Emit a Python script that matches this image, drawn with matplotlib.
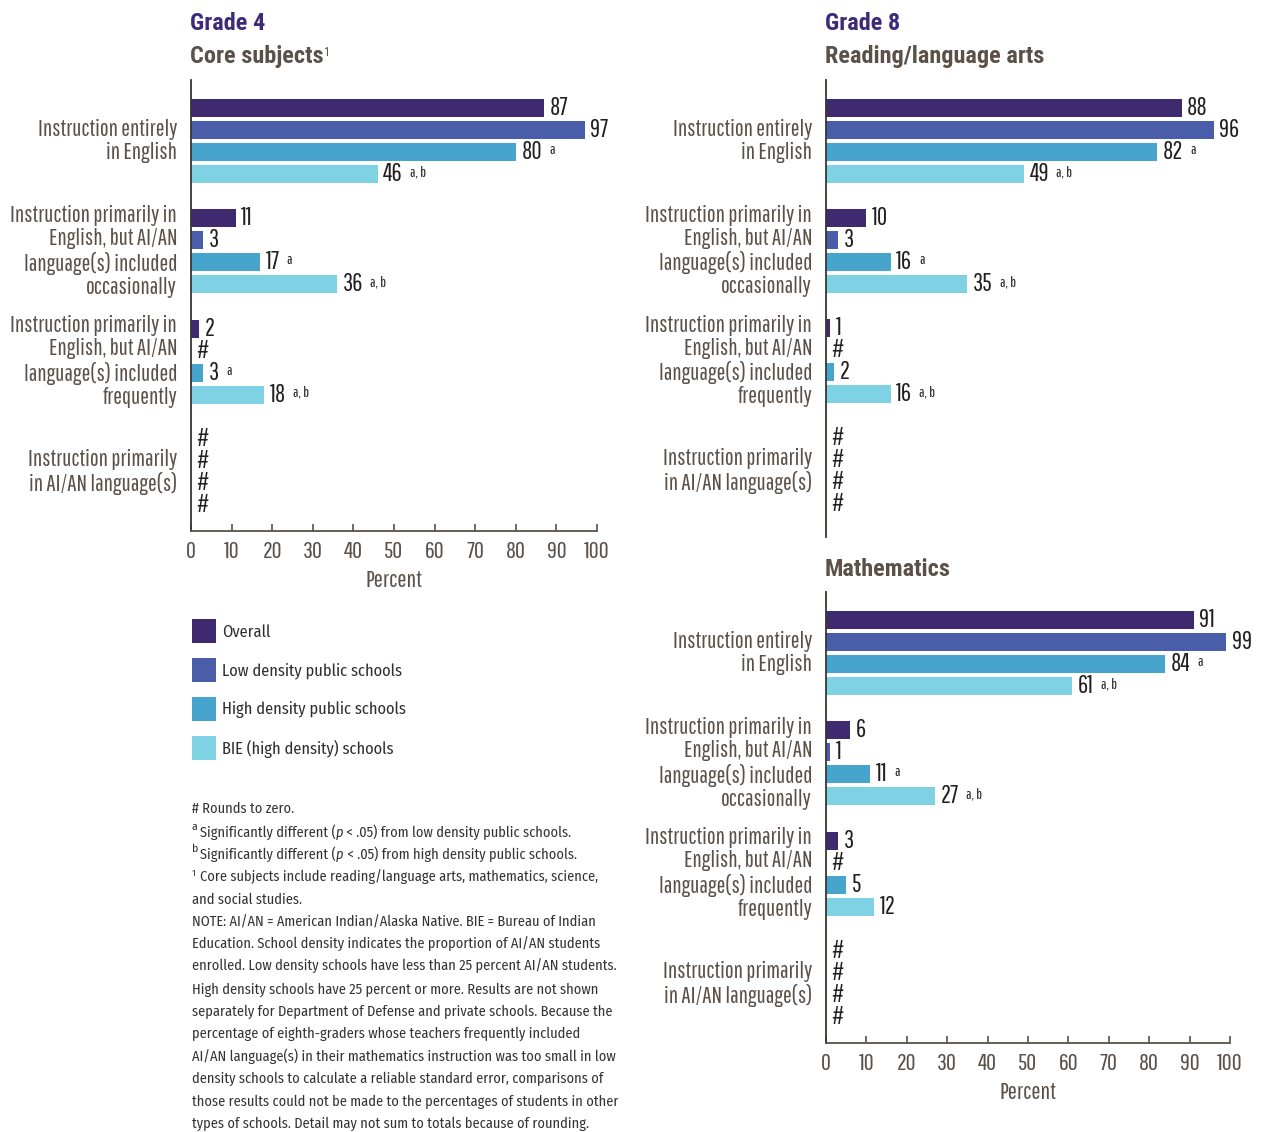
import matplotlib
matplotlib.use("Agg")
import matplotlib.pyplot as plt
from matplotlib.text import Annotation
import matplotlib.font_manager as fm
import logging

logging.getLogger("matplotlib.font_manager").setLevel(logging.ERROR)

W, H = 1263, 1132

SERIES = ["Overall", "Low density public schools", "High density public schools", "BIE (high density) schools"]
COLORS = ["#3f2a70", "#4a5da9", "#47a4cc", "#7fd2e3"]

CATEGORIES = [
    "Instruction entirely\nin English",
    "Instruction primarily in\nEnglish, but AI/AN\nlanguage(s) included\noccasionally",
    "Instruction primarily in\nEnglish, but AI/AN\nlanguage(s) included\nfrequently",
    "Instruction primarily\nin AI/AN language(s)",
]

# rows = category, cols = series; None = rounds to zero (#)
g4_core = [[87, 97, 80, 46], [11, 3, 17, 36], [2, None, 3, 18], [None, None, None, None]]
g4_notes = [["", "", "a", "a, b"], ["", "", "a", "a, b"], ["", "", "a", "a, b"], ["", "", "", ""]]

g8_read = [[88, 96, 82, 49], [10, 3, 16, 35], [1, None, 2, 16], [None, None, None, None]]
g8_read_notes = [["", "", "a", "a, b"], ["", "", "a", "a, b"], ["", "", "", "a, b"], ["", "", "", ""]]

g8_math = [[91, 99, 84, 61], [6, 1, 11, 27], [3, None, 5, 12], [None, None, None, None]]
g8_math_notes = [["", "", "a", "a, b"], ["", "", "a", "a, b"], ["", "", "", ""], ["", "", "", ""]]

XTICKS = list(range(0, 101, 10))

installed = {f.name for f in fm.fontManager.ttflist}


def pick(cands):
    return [c for c in cands if c in installed] + ["DejaVu Sans"]


COND = pick(["Pathway Gothic One", "Roboto Condensed", "Liberation Sans Narrow"])
BOLD = pick(["Roboto Condensed", "Oswald", "Archivo Narrow", "Liberation Sans Narrow"])
HUM = pick(["Fira Sans Condensed", "Encode Sans Condensed", "Roboto Condensed", "Liberation Sans Narrow"])

LABEL_C = "#5b5148"
VAL_C = "#231f20"
SPINE_C = "#5b5148"

fig = plt.figure(figsize=(W / 100, H / 100), dpi=100)


def box(x0, y0, x1, y1):
    return [x0 / W, 1 - y1 / H, (x1 - x0) / W, (y1 - y0) / H]


def fy(py):
    return 1 - py / H


def panel(rect, data, notes, show_x, ybottom=19.18):
    ax = fig.add_axes(rect)
    for g, row in enumerate(data):
        for i, v in enumerate(row):
            pos = g * 5 + i
            val = 0 if v is None else v
            if v is not None:
                ax.barh(pos, val, height=0.82, color=COLORS[i], linewidth=0)
            t = ax.annotate("#" if v is None else str(v), (val, pos), xytext=(4, 0),
                            textcoords="offset points", va="center", ha="left",
                            fontsize=18, color=VAL_C, family=COND)
            if notes[g][i]:
                ax.annotate(notes[g][i], xy=(1, 0.88), xycoords=t, xytext=(5, 0),
                            textcoords="offset points", va="top", ha="left",
                            fontsize=11, color=VAL_C, family=COND)
        ax.annotate(CATEGORIES[g], xy=(0, g * 5 + 1.5), xycoords=("axes fraction", "data"),
                    xytext=(-10, 0), textcoords="offset points",
                    ha="right", va="center", fontsize=16.8, color=LABEL_C,
                    linespacing=1.12, family=COND)
    ax.set_xlim(0, 100)
    ax.set_ylim(ybottom, -1.27)
    ax.set_yticks([])
    for s in ["top", "right"]:
        ax.spines[s].set_visible(False)
    ax.spines["left"].set_color("#3a3530")
    ax.spines["left"].set_linewidth(1.3)
    if show_x:
        ax.spines["bottom"].set_color(SPINE_C)
        ax.spines["bottom"].set_linewidth(1.3)
        ax.set_xticks(XTICKS)
        ax.tick_params(axis="x", direction="in", length=5, width=1.2, color=SPINE_C,
                       labelsize=17.5, labelcolor=LABEL_C, pad=7)
        for lab in ax.get_xticklabels():
            lab.set_family(COND)
        ax.set_xlabel("Percent", fontsize=17.5, color=LABEL_C, labelpad=6, family=COND)
    else:
        ax.spines["bottom"].set_visible(False)
        ax.set_xticks([])
    return ax


ax1 = panel(box(191, 80, 597, 531), g4_core, g4_notes, True)
ax2 = panel(box(826, 80, 1230, 537), g8_read, g8_read_notes, False, ybottom=19.5)
ax3 = panel(box(826, 592, 1230, 1043), g8_math, g8_math_notes, True)

# headers
PURPLE = "#3f2a7a"
HEAD_C = "#5b5148"
HFS = 17.5
fig.text(190 / W, fy(23), "Grade 4", fontsize=HFS, fontweight="bold", color=PURPLE, va="center", family=BOLD)
h = fig.text(190 / W, fy(56), "Core subjects", fontsize=HFS, fontweight="bold", color=HEAD_C, va="center", family=BOLD)
fig.add_artist(Annotation("1", xy=(1, 0.92), xycoords=h, xytext=(0.5, 0), textcoords="offset points",
                          va="top", ha="left", fontsize=9, color=HEAD_C, family=BOLD))
fig.text(825 / W, fy(23), "Grade 8", fontsize=HFS, fontweight="bold", color=PURPLE, va="center", family=BOLD)
fig.text(825 / W, fy(56), "Reading/language arts", fontsize=HFS, fontweight="bold", color=HEAD_C, va="center", family=BOLD)
fig.text(825 / W, fy(569), "Mathematics", fontsize=HFS, fontweight="bold", color=HEAD_C, va="center", family=BOLD)

# legend
LEG_Y = [631, 670, 709, 748]
for name, c, y in zip(SERIES, COLORS, LEG_Y):
    fig.patches.append(plt.Rectangle((192 / W, fy(y + 12)), 24 / W, 24 / H,
                                     transform=fig.transFigure, color=c, linewidth=0))
    fig.text(222 / W, fy(y + 1), name, fontsize=11.8, color="#2f2f2f", va="center", family=HUM)

# footnotes
FN_C = "#333333"
FS = 10.3
x0 = 192 / W
FN = dict(fontsize=FS, color=FN_C, family=HUM)
lines = [
    "NOTE: AI/AN = American Indian/Alaska Native. BIE = Bureau of Indian",
    "Education. School density indicates the proportion of AI/AN students",
    "enrolled. Low density schools have less than 25 percent AI/AN students.",
    "High density schools have 25 percent or more. Results are not shown",
    "separately for Department of Defense and private schools. Because the",
    "percentage of eighth-graders whose teachers frequently included",
    "AI/AN language(s) in their mathematics instruction was too small in low",
    "density schools to calculate a reliable standard error, comparisons of",
    "those results could not be made to the percentages of students in other",
    "types of schools. Detail may not sum to totals because of rounding.",
]
fig.text(x0, fy(809), "# Rounds to zero.", va="center", **FN)


def sig_line(letter, y, tail):
    sup = fig.text(x0, fy(y - 5), letter, va="center", fontsize=8.5, color=FN_C, family=HUM)
    t = fig.add_artist(Annotation("Significantly different (", xy=(1, 0.5), xycoords=sup,
                                  xytext=(1.5, -3.6), textcoords="offset points",
                                  va="center", ha="left", **FN))
    t = fig.add_artist(Annotation("p", xy=(1, 0), xycoords=t, xytext=(0, 0),
                                  textcoords="offset points", va="bottom", ha="left",
                                  fontstyle="italic", **FN))
    fig.add_artist(Annotation(" < .05) from " + tail, xy=(1, 0), xycoords=t, xytext=(0, 0),
                              textcoords="offset points", va="bottom", ha="left", **FN))


sig_line("a", 832, "low density public schools.")
sig_line("b", 854, "high density public schools.")

fig.text(x0, fy(873), "1", va="center", fontsize=7, color=FN_C, family=HUM)
fig.text(200 / W, fy(877), "Core subjects include reading/language arts, mathematics, science,",
         va="center", **FN)
fig.text(x0, fy(899.5), "and social studies.", va="center", **FN)

for k, ln in enumerate(lines):
    fig.text(x0, fy(922 + k * 22.45), ln, va="center", **FN)

fig.savefig("out.png", dpi=100)
